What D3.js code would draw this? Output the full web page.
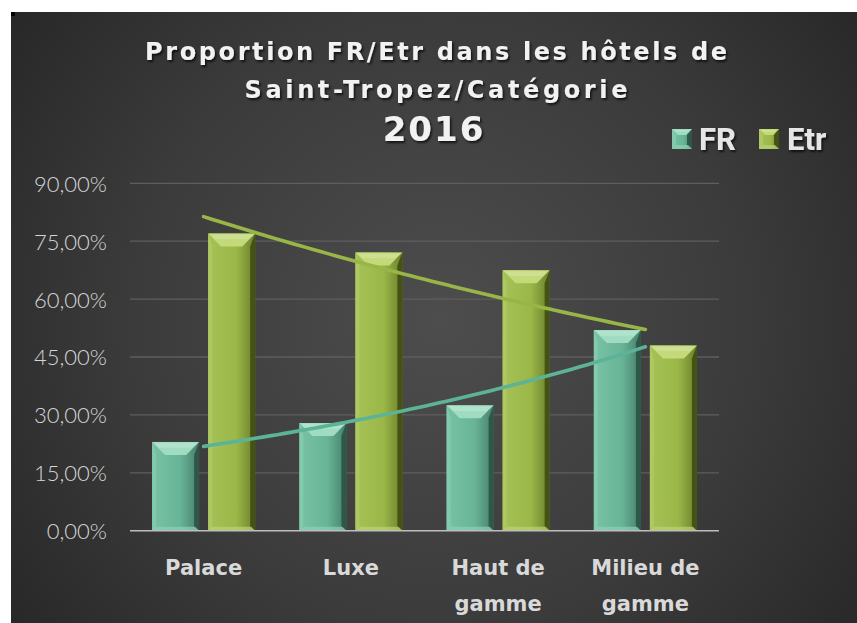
<!DOCTYPE html>
<html><head><meta charset="utf-8">
<script src="https://cdn.jsdelivr.net/npm/d3@7"></script>
<style>html,body{margin:0;padding:0;background:#fff;}svg{display:block;}</style>
</head><body>
<svg id="chart" width="857" height="623"></svg>
<script>
const categories = [["Palace"], ["Luxe"], ["Haut de", "gamme"], ["Milieu de", "gamme"]];
const seriesNames = ["FR", "Etr"];
const frValues = [23.0, 27.9, 32.5, 52.0];
const etrValues = [77.0, 72.1, 67.5, 48.0];
const yTicks = [0, 15, 30, 45, 60, 75, 90];
const titleLines = ["Proportion FR/Etr dans les hôtels de", "Saint-Tropez/Catégorie", "2016"];

const W = 857, H = 623;
const svg = d3.select("#chart");
const defs = svg.append("defs");

// background
const bg = defs.append("radialGradient").attr("id","bg").attr("gradientUnits","userSpaceOnUse")
  .attr("cx",440).attr("cy",320).attr("r",560);
bg.append("stop").attr("offset","0%").attr("stop-color","#4d4d4d");
bg.append("stop").attr("offset","55%").attr("stop-color","#3b3b3b");
bg.append("stop").attr("offset","100%").attr("stop-color","#252525");
svg.append("rect").attr("x",11).attr("y",12).attr("width",W-11).attr("height",H-12).attr("fill","url(#bg)");
svg.append("rect").attr("x",11).attr("y",12).attr("width",4).attr("height",4).attr("fill","#000");

const shadow = defs.append("filter").attr("id","ts").attr("x","-10%").attr("y","-30%").attr("width","120%").attr("height","160%");
shadow.append("feDropShadow").attr("dx",1.5).attr("dy",2).attr("stdDeviation",1.2).attr("flood-color","#000").attr("flood-opacity",0.7);

const palettes = {
  FR:  {face0:"#78c3a5", face1:"#68b497", face2:"#457e6b", top:"#9fdcc1", left:"#86ccb0", right:"#2c5244", bottom:"#8fd0b5", line:"#5db398"},
  Etr: {face0:"#a6c257", face1:"#9ab748", face2:"#6b7f2a", top:"#c3d97a", left:"#b0c965", right:"#3f4c12", bottom:"#bcd276", line:"#98b548"}
};
seriesNames.forEach(s => {
  const p = palettes[s];
  const g = defs.append("linearGradient").attr("id","face"+s).attr("x1","0").attr("x2","1").attr("y1","0").attr("y2","0");
  g.append("stop").attr("offset","0%").attr("stop-color",p.face0);
  g.append("stop").attr("offset","60%").attr("stop-color",p.face1);
  g.append("stop").attr("offset","100%").attr("stop-color",p.face2);
});

// scales
const x0 = d3.scaleBand().domain(d3.range(categories.length)).range([130, 719]).paddingInner(0.3).paddingOuter(0.15);
const x1 = d3.scaleBand().domain(seriesNames).range([0, x0.bandwidth()]).paddingInner(0.1607);
const y = d3.scaleLinear().domain([0, 90]).range([530.7, 183.3]);

// gridlines
const grid = svg.append("g");
grid.selectAll("line").data(yTicks.filter(d => d > 0)).join("line")
  .attr("x1",130).attr("x2",719).attr("y1",d=>y(d)).attr("y2",d=>y(d))
  .attr("stroke","#5e5e5e").attr("stroke-width",1.3);

// y axis labels
const fmt = d => d3.format(".2f")(d).replace(".", ",") + "%";
const yAxis = d3.axisLeft(y).tickValues(yTicks).tickFormat(fmt).tickSize(0).tickPadding(0);
const yg = svg.append("g").attr("transform","translate(107,0)").call(yAxis);
yg.select(".domain").remove();
yg.selectAll("text").attr("fill","#d6d6d6").attr("font-family","Lato, 'DejaVu Sans', sans-serif")
  .attr("font-weight",300).attr("font-size",22).attr("dy","0.36em");

// bars
const data = seriesNames.map(s => ({s, vals: s === "FR" ? frValues : etrValues}));
function bevelBar(g, s, bx, by, bw, bh, bmax) {
  const p = palettes[s];
  const b = Math.min(bmax || 13, bw/3.4, bh/3);
  const sb = 4;
  g.append("rect").attr("x",bx).attr("y",by).attr("width",bw).attr("height",bh).attr("fill","url(#face"+s+")");
  g.append("polygon").attr("points",[[bx,by],[bx+sb,by+b],[bx+sb,by+bh-sb],[bx,by+bh]].join(" ")).attr("fill",p.left).attr("opacity",0.8);
  g.append("polygon").attr("points",[[bx+bw,by],[bx+bw-sb-1,by+b],[bx+bw-sb-1,by+bh-sb],[bx+bw,by+bh]].join(" ")).attr("fill",p.right).attr("opacity",0.9);
  g.append("polygon").attr("points",[[bx,by],[bx+bw,by],[bx+bw-b,by+b],[bx+b,by+b]].join(" ")).attr("fill",p.top);
  g.append("polygon").attr("points",[[bx+2,by+1],[bx+bw-2,by+1],[bx+bw-b*0.55,by+b*0.45],[bx+b*0.55,by+b*0.45]].join(" ")).attr("fill","#ffffff").attr("opacity",0.18);
  g.append("polygon").attr("points",[[bx,by+bh],[bx+bw,by+bh],[bx+bw-sb,by+bh-sb],[bx+sb,by+bh-sb]].join(" ")).attr("fill",p.bottom).attr("opacity",0.7);
}
const barsG = svg.append("g");
data.forEach(d => {
  d.vals.forEach((v, i) => {
    const bx = x0(i) + x1(d.s);
    bevelBar(barsG, d.s, bx, y(v), x1.bandwidth(), y(0) - y(v));
  });
});

// baseline axis
svg.append("line").attr("x1",130).attr("x2",719).attr("y1",y(0)).attr("y2",y(0))
  .attr("stroke","#bdbdbd").attr("stroke-width",1.6);

// exponential trendlines (least squares on log values)
function expFit(vals) {
  const xs = vals.map((v,i) => i+1), ls = vals.map(v => Math.log(v));
  const mx = d3.mean(xs), ml = d3.mean(ls);
  const bb = d3.sum(xs.map((xv,i)=>(xv-mx)*(ls[i]-ml))) / d3.sum(xs.map(xv=>(xv-mx)*(xv-mx)));
  const a = ml - bb*mx;
  return t => Math.exp(a + bb*t);
}
const xc = t => x0(0) + x0.bandwidth()/2 + (t-1) * x0.step();
data.forEach(d => {
  const f = expFit(d.vals);
  const pts = d3.range(1, 4.0001, 0.05).map(t => [xc(t), y(f(t))]);
  svg.append("path").attr("d", d3.line()(pts)).attr("fill","none")
    .attr("stroke", palettes[d.s].line).attr("stroke-width",3.6).attr("stroke-linecap","round");
});

// category labels
const catG = svg.append("g").attr("font-family","'DejaVu Sans', sans-serif").attr("font-weight","bold")
  .attr("font-size",21).attr("fill","#d9d9d9").attr("text-anchor","middle");
categories.forEach((lines, i) => {
  const t = catG.append("text").attr("x", x0(i) + x0.bandwidth()/2).attr("y", 575);
  lines.forEach((l, j) => t.append("tspan").attr("x", x0(i) + x0.bandwidth()/2).attr("dy", j ? 36 : 0).text(l));
});

// title
const tg = svg.append("g").attr("fill","#f2f2f2").attr("font-family","'DejaVu Sans', sans-serif")
  .attr("font-weight","bold").attr("text-anchor","middle").attr("filter","url(#ts)");
tg.append("text").attr("x",436).attr("y",60).attr("font-size",24).attr("textLength",582).attr("lengthAdjust","spacing").text(titleLines[0]);
tg.append("text").attr("x",436).attr("y",98).attr("font-size",24).attr("textLength",383).attr("lengthAdjust","spacing").text(titleLines[1]);
tg.append("text").attr("x",434).attr("y",141).attr("font-size",34).attr("letter-spacing",2).text(titleLines[2]);

// legend
const lg = svg.append("g");
const legendPos = [{s:"FR", sx:672, tx:699}, {s:"Etr", sx:759, tx:787}];
legendPos.forEach(l => {
  const gsw = lg.append("g");
  bevelBar(gsw, l.s, l.sx, 129, 20, 20, 7);
  lg.append("text").attr("x", l.tx).attr("y", 150).attr("font-family","'Liberation Sans Narrow', 'Roboto', sans-serif")
    .attr("font-weight","bold").attr("font-size",31).attr("fill","#e6e6e6").attr("filter","url(#ts)").text(l.s);
});
</script>
</body></html>
